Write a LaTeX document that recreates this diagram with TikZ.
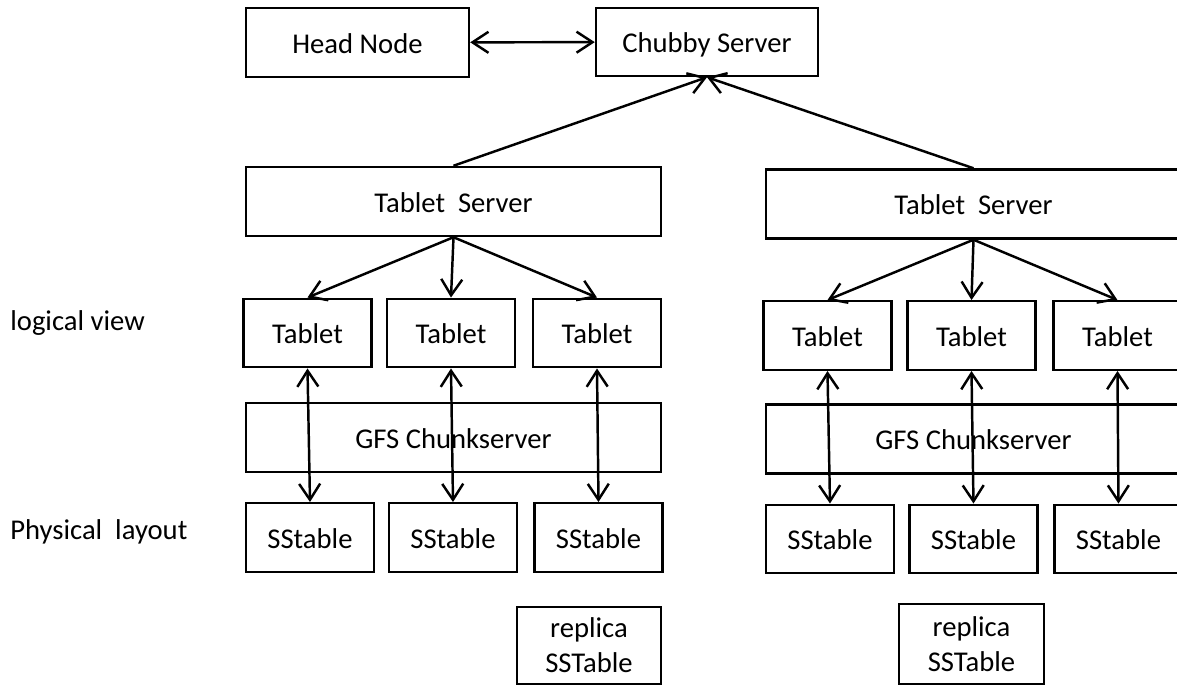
\documentclass[tikz,border=0pt]{standalone}
\usepackage{fontspec}
\setmainfont{Carlito}
\usepackage{tikz}
\usetikzlibrary{arrows.meta,positioning}

\begin{document}
\begin{tikzpicture}[
  font=\fontsize{16.3}{19.9}\selectfont,
  box/.style={draw, line width=1.4pt, inner sep=0pt, align=center, fill=white},
  one/.style={box, text height=12.5pt, text depth=0pt},
  wide/.style={one, minimum width=8.3cm, minimum height=1.38cm},
  small/.style={one, minimum width=2.56cm, minimum height=1.37cm},
  line/.style={line width=1.4pt},
  tip/.style={line, -{Straight Barb[length=3.2mm,width=4.2mm]}},
  both/.style={line, {Straight Barb[length=3.2mm,width=4.2mm]}-{Straight Barb[length=3.2mm,width=4.2mm]}}
]
\useasboundingbox (0,0) rectangle (23.54,-13.72);

% top row
\node[one, minimum width=4.46cm, minimum height=1.38cm] (head) at (7.15,-0.85) {Head Node};
\node[one, minimum width=4.44cm, minimum height=1.36cm] (chubby) at (14.14,-0.84) {Chubby Server};

% tablet servers
\node[wide] (tsL) at (9.07,-4.03) {Tablet\ \ Server};
\node[wide] (tsR) at (19.47,-4.08) {Tablet\ \ Server};

% tablets
\node[small] (tabL1) at (6.15,-6.66) {Tablet};
\node[small] (tabL2) at (9.02,-6.66) {Tablet};
\node[small] (tabL3) at (11.94,-6.66) {Tablet};
\node[small] (tabR1) at (16.55,-6.71) {Tablet};
\node[small] (tabR2) at (19.43,-6.71) {Tablet};
\node[small] (tabR3) at (22.35,-6.71) {Tablet};

% chunkservers
\node[wide] (gfsL) at (9.07,-8.75) {GFS Chunkserver};
\node[wide] (gfsR) at (19.47,-8.78) {GFS Chunkserver};

% sstables
\node[small] (ssL1) at (6.2,-10.75) {SStable};
\node[small] (ssL2) at (9.06,-10.75) {SStable};
\node[small] (ssL3) at (11.97,-10.75) {SStable};
\node[small] (ssR1) at (16.6,-10.78) {SStable};
\node[small] (ssR2) at (19.47,-10.78) {SStable};
\node[small] (ssR3) at (22.37,-10.78) {SStable};

% replicas
\node[box, minimum width=2.88cm, minimum height=1.54cm] (repL) at (11.78,-12.91) {replica\\SSTable};
\node[box, minimum width=2.9cm, minimum height=1.6cm] (repR) at (19.43,-12.88) {replica\\SSTable};

% side labels
\node[anchor=west, inner sep=0pt] (logical) at (0.2,-6.46) {logical view};
\node[anchor=west, inner sep=0pt] (physical) at (0.2,-10.64) {Physical\ \ layout};

\draw[both] (head) -- (chubby);
\draw[tip] (tsL.north) -- (chubby.south);
\draw[tip] (tsR.north) -- (chubby.south);

\draw[tip] (tsL.south) -- (tabL1.north);
\draw[tip] (tsL.south) -- (tabL2.north);
\draw[tip] (tsL.south) -- (tabL3.north);
\draw[tip] (tsR.south) -- (tabR1.north);
\draw[tip] (tsR.south) -- (tabR2.north);
\draw[tip] (tsR.south) -- (tabR3.north);

\draw[both] (tabL1.south) -- (ssL1.north);
\draw[both] (tabL2.south) -- (ssL2.north);
\draw[both] (tabL3.south) -- (ssL3.north);
\draw[both] (tabR1.south) -- (ssR1.north);
\draw[both] (tabR2.south) -- (ssR2.north);
\draw[both] (tabR3.south) -- (ssR3.north);
\end{tikzpicture}
\end{document}
